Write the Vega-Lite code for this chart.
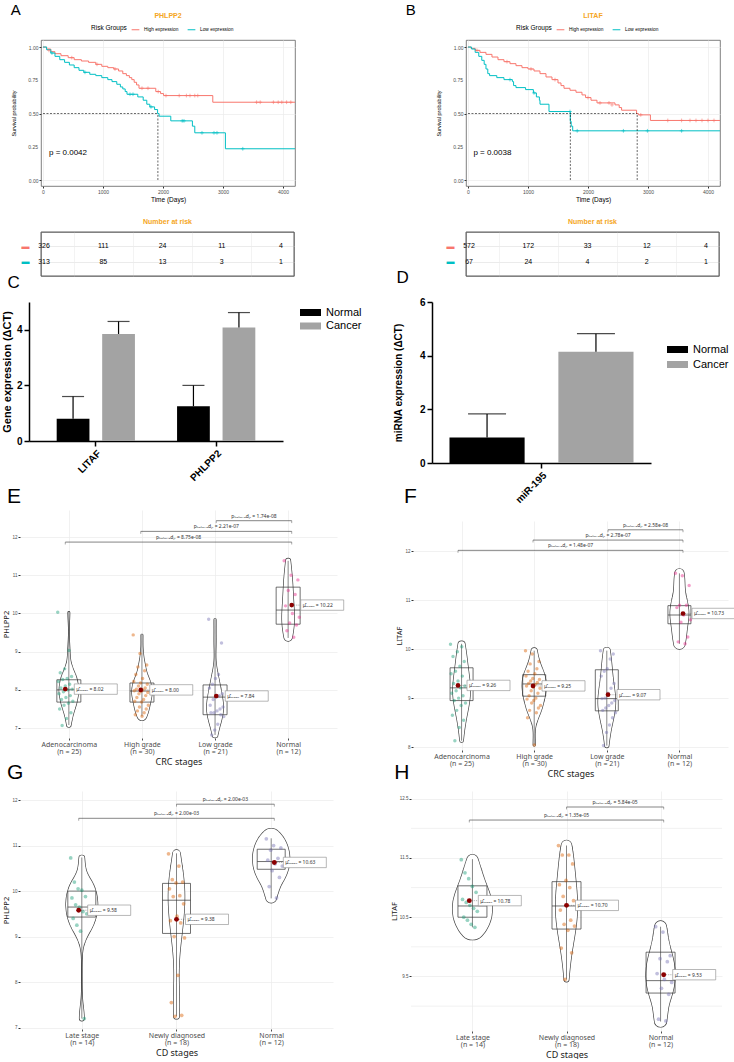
{
  "$schema": "https://vega.github.io/schema/vega-lite/v6.json",
  "background": "white",
  "padding": {"left": 0, "top": 2, "right": 0, "bottom": 0},
  "config": {
    "font": "Liberation Sans",
    "view": {"stroke": null},
    "axis": {"labelColor": "#4D4D4D", "titleColor": "#000000", "tickColor": "#333333", "domainColor": "#333333", "titleFontWeight": "normal", "labelOverlap": false},
    "title": {"fontWeight": "normal", "color": "#000000"},
    "legend": {"padding": 0}
  },
  "datasets": {
    "kmA": [
      {"g":"High expression","t":0,"s":1},{"g":"High expression","t":60,"s":0.985},{"g":"High expression","t":130,"s":0.965},{"g":"High expression","t":200,"s":0.95},{"g":"High expression","t":300,"s":0.935},{"g":"High expression","t":420,"s":0.92},{"g":"High expression","t":520,"s":0.905},{"g":"High expression","t":640,"s":0.895},{"g":"High expression","t":760,"s":0.885},{"g":"High expression","t":880,"s":0.87},{"g":"High expression","t":980,"s":0.855},{"g":"High expression","t":1080,"s":0.845},{"g":"High expression","t":1180,"s":0.835},{"g":"High expression","t":1260,"s":0.82},{"g":"High expression","t":1330,"s":0.8},{"g":"High expression","t":1390,"s":0.785},{"g":"High expression","t":1440,"s":0.77},{"g":"High expression","t":1480,"s":0.755},{"g":"High expression","t":1520,"s":0.735},{"g":"High expression","t":1560,"s":0.715},{"g":"High expression","t":1600,"s":0.69},{"g":"High expression","t":1880,"s":0.665},{"g":"High expression","t":1960,"s":0.65},{"g":"High expression","t":2010,"s":0.635},{"g":"High expression","t":2830,"s":0.585},{"g":"High expression","t":4200,"s":0.585},
      {"g":"Low expression","t":0,"s":1},{"g":"Low expression","t":60,"s":0.98},{"g":"Low expression","t":130,"s":0.955},{"g":"Low expression","t":200,"s":0.93},{"g":"Low expression","t":280,"s":0.905},{"g":"Low expression","t":360,"s":0.885},{"g":"Low expression","t":440,"s":0.865},{"g":"Low expression","t":520,"s":0.845},{"g":"Low expression","t":600,"s":0.825},{"g":"Low expression","t":680,"s":0.81},{"g":"Low expression","t":780,"s":0.795},{"g":"Low expression","t":880,"s":0.785},{"g":"Low expression","t":980,"s":0.77},{"g":"Low expression","t":1080,"s":0.755},{"g":"Low expression","t":1150,"s":0.74},{"g":"Low expression","t":1230,"s":0.72},{"g":"Low expression","t":1290,"s":0.7},{"g":"Low expression","t":1330,"s":0.685},{"g":"Low expression","t":1370,"s":0.665},{"g":"Low expression","t":1400,"s":0.645},{"g":"Low expression","t":1580,"s":0.625},{"g":"Low expression","t":1670,"s":0.6},{"g":"Low expression","t":1730,"s":0.57},{"g":"Low expression","t":1780,"s":0.55},{"g":"Low expression","t":1860,"s":0.53},{"g":"Low expression","t":1910,"s":0.5},{"g":"Low expression","t":1935,"s":0.48},{"g":"Low expression","t":2130,"s":0.445},{"g":"Low expression","t":2490,"s":0.405},{"g":"Low expression","t":2530,"s":0.355},{"g":"Low expression","t":3040,"s":0.235},{"g":"Low expression","t":4200,"s":0.235}
    ],
    "censA": [
      {"g":"High expression","t":100,"s":0.975},{"g":"High expression","t":480,"s":0.92},{"g":"High expression","t":900,"s":0.87},{"g":"High expression","t":1200,"s":0.835},{"g":"High expression","t":1650,"s":0.69},{"g":"High expression","t":1750,"s":0.69},{"g":"High expression","t":1920,"s":0.665},{"g":"High expression","t":2050,"s":0.635},{"g":"High expression","t":2270,"s":0.635},{"g":"High expression","t":2390,"s":0.635},{"g":"High expression","t":2450,"s":0.635},{"g":"High expression","t":2530,"s":0.635},{"g":"High expression","t":2580,"s":0.635},{"g":"High expression","t":3560,"s":0.585},{"g":"High expression","t":3620,"s":0.585},{"g":"High expression","t":3840,"s":0.585},{"g":"High expression","t":3920,"s":0.585},{"g":"High expression","t":3980,"s":0.585},{"g":"High expression","t":4060,"s":0.585},{"g":"High expression","t":4130,"s":0.585},
      {"g":"Low expression","t":150,"s":0.955},{"g":"Low expression","t":700,"s":0.81},{"g":"Low expression","t":1450,"s":0.645},{"g":"Low expression","t":1500,"s":0.645},{"g":"Low expression","t":1800,"s":0.55},{"g":"Low expression","t":2320,"s":0.445},{"g":"Low expression","t":2350,"s":0.445},{"g":"Low expression","t":2650,"s":0.355},{"g":"Low expression","t":2850,"s":0.355},{"g":"Low expression","t":2900,"s":0.355},{"g":"Low expression","t":3330,"s":0.235}
    ],
    "kmB": [
      {"g":"High expression","t":0,"s":1},{"g":"High expression","t":50,"s":0.99},{"g":"High expression","t":120,"s":0.975},{"g":"High expression","t":200,"s":0.96},{"g":"High expression","t":300,"s":0.945},{"g":"High expression","t":400,"s":0.925},{"g":"High expression","t":500,"s":0.905},{"g":"High expression","t":600,"s":0.89},{"g":"High expression","t":700,"s":0.875},{"g":"High expression","t":800,"s":0.86},{"g":"High expression","t":900,"s":0.845},{"g":"High expression","t":1000,"s":0.835},{"g":"High expression","t":1100,"s":0.82},{"g":"High expression","t":1200,"s":0.8},{"g":"High expression","t":1300,"s":0.775},{"g":"High expression","t":1400,"s":0.755},{"g":"High expression","t":1500,"s":0.73},{"g":"High expression","t":1550,"s":0.71},{"g":"High expression","t":1600,"s":0.69},{"g":"High expression","t":1700,"s":0.675},{"g":"High expression","t":1800,"s":0.66},{"g":"High expression","t":1900,"s":0.64},{"g":"High expression","t":1960,"s":0.62},{"g":"High expression","t":2050,"s":0.6},{"g":"High expression","t":2150,"s":0.58},{"g":"High expression","t":2450,"s":0.565},{"g":"High expression","t":2520,"s":0.545},{"g":"High expression","t":2560,"s":0.525},{"g":"High expression","t":2810,"s":0.5},{"g":"High expression","t":2840,"s":0.49},{"g":"High expression","t":3040,"s":0.448},{"g":"High expression","t":4200,"s":0.448},
      {"g":"Low expression","t":0,"s":1},{"g":"Low expression","t":60,"s":0.985},{"g":"Low expression","t":120,"s":0.96},{"g":"Low expression","t":180,"s":0.93},{"g":"Low expression","t":230,"s":0.9},{"g":"Low expression","t":270,"s":0.87},{"g":"Low expression","t":300,"s":0.835},{"g":"Low expression","t":330,"s":0.8},{"g":"Low expression","t":360,"s":0.785},{"g":"Low expression","t":480,"s":0.77},{"g":"Low expression","t":600,"s":0.755},{"g":"Low expression","t":740,"s":0.74},{"g":"Low expression","t":760,"s":0.71},{"g":"Low expression","t":800,"s":0.695},{"g":"Low expression","t":960,"s":0.68},{"g":"Low expression","t":1090,"s":0.655},{"g":"Low expression","t":1140,"s":0.625},{"g":"Low expression","t":1190,"s":0.6},{"g":"Low expression","t":1200,"s":0.57},{"g":"Low expression","t":1350,"s":0.515},{"g":"Low expression","t":1705,"s":0.44},{"g":"Low expression","t":1720,"s":0.405},{"g":"Low expression","t":1745,"s":0.37},{"g":"Low expression","t":4200,"s":0.37}
    ],
    "censB": [
      {"g":"High expression","t":150,"s":0.975},{"g":"High expression","t":650,"s":0.89},{"g":"High expression","t":1050,"s":0.835},{"g":"High expression","t":1450,"s":0.755},{"g":"High expression","t":2000,"s":0.62},{"g":"High expression","t":2200,"s":0.58},{"g":"High expression","t":2350,"s":0.58},{"g":"High expression","t":2400,"s":0.565},{"g":"High expression","t":2880,"s":0.49},{"g":"High expression","t":3330,"s":0.448},{"g":"High expression","t":3560,"s":0.448},{"g":"High expression","t":3700,"s":0.448},{"g":"High expression","t":3800,"s":0.448},{"g":"High expression","t":3900,"s":0.448},{"g":"High expression","t":4000,"s":0.448},{"g":"High expression","t":4100,"s":0.448},
      {"g":"Low expression","t":700,"s":0.755},{"g":"Low expression","t":1100,"s":0.655},{"g":"Low expression","t":1700,"s":0.515},{"g":"Low expression","t":1820,"s":0.37},{"g":"Low expression","t":2590,"s":0.37},{"g":"Low expression","t":2990,"s":0.37},{"g":"Low expression","t":3560,"s":0.37}
    ],
    "ylabKM": [{"t": -33, "s": 0.25, "lab": "0.25"}, {"t": -33, "s": 0.75, "lab": "0.75"}],
    "frameT": [{"x1": -51, "x2": 4219, "y1": 0, "y2": 1}],
    "riskA": [
      {"g":"High expression","t":0,"n":326},{"g":"High expression","t":1000,"n":111},{"g":"High expression","t":2000,"n":24},{"g":"High expression","t":3000,"n":11},{"g":"High expression","t":4000,"n":4},
      {"g":"Low expression","t":0,"n":313},{"g":"Low expression","t":1000,"n":85},{"g":"Low expression","t":2000,"n":13},{"g":"Low expression","t":3000,"n":3},{"g":"Low expression","t":4000,"n":1}
    ],
    "riskB": [
      {"g":"High expression","t":0,"n":572},{"g":"High expression","t":1000,"n":172},{"g":"High expression","t":2000,"n":33},{"g":"High expression","t":3000,"n":12},{"g":"High expression","t":4000,"n":4},
      {"g":"Low expression","t":0,"n":67},{"g":"Low expression","t":1000,"n":24},{"g":"Low expression","t":2000,"n":4},{"g":"Low expression","t":3000,"n":2},{"g":"Low expression","t":4000,"n":1}
    ],
    "barC": [
      {"gene":"LITAF","grp":"Normal","mean":0.8,"hi":1.6},{"gene":"LITAF","grp":"Cancer","mean":3.85,"hi":4.3},
      {"gene":"PHLPP2","grp":"Normal","mean":1.25,"hi":2.0},{"gene":"PHLPP2","grp":"Cancer","mean":4.08,"hi":4.62}
    ],
    "barD": [
      {"gene":"miR-195","grp":"Normal","mean":0.95,"hi":1.83},{"gene":"miR-195","grp":"Cancer","mean":4.15,"hi":4.82}
    ],
    "ptsE": [
      {"c":1,"v":10.03},{"c":1,"v":8.22},{"c":1,"v":7.9},{"c":1,"v":7.5},{"c":1,"v":8.45},{"c":1,"v":8.05},{"c":1,"v":7.75},{"c":1,"v":7.07},{"c":1,"v":8.27},{"c":1,"v":7.95},{"c":1,"v":7.6},{"c":1,"v":8.55},{"c":1,"v":8.1},{"c":1,"v":7.8},{"c":1,"v":7.25},{"c":1,"v":8.3},{"c":1,"v":8.0},{"c":1,"v":7.65},{"c":1,"v":9.03},{"c":1,"v":8.15},{"c":1,"v":7.85},{"c":1,"v":7.4},{"c":1,"v":8.35},{"c":1,"v":8.02},{"c":1,"v":7.7},
      {"c":2,"v":9.44},{"c":2,"v":8.22},{"c":2,"v":7.98},{"c":2,"v":7.7},{"c":2,"v":7.35},{"c":2,"v":8.4},{"c":2,"v":8.02},{"c":2,"v":7.8},{"c":2,"v":7.45},{"c":2,"v":8.6},{"c":2,"v":8.1},{"c":2,"v":7.9},{"c":2,"v":7.55},{"c":2,"v":8.95},{"c":2,"v":8.18},{"c":2,"v":7.96},{"c":2,"v":7.68},{"c":2,"v":7.31},{"c":2,"v":8.3},{"c":2,"v":8.0},{"c":2,"v":7.75},{"c":2,"v":7.4},{"c":2,"v":8.5},{"c":2,"v":8.05},{"c":2,"v":7.85},{"c":2,"v":7.5},{"c":2,"v":8.65},{"c":2,"v":8.15},{"c":2,"v":7.93},{"c":2,"v":7.6},
      {"c":3,"v":9.85},{"c":3,"v":8.05},{"c":3,"v":7.6},{"c":3,"v":7.4},{"c":3,"v":6.82},{"c":3,"v":8.15},{"c":3,"v":7.75},{"c":3,"v":7.4},{"c":3,"v":6.95},{"c":3,"v":8.3},{"c":3,"v":7.81},{"c":3,"v":7.45},{"c":3,"v":7.1},{"c":3,"v":8.4},{"c":3,"v":7.85},{"c":3,"v":7.5},{"c":3,"v":7.35},{"c":3,"v":9.23},{"c":3,"v":7.9},{"c":3,"v":7.55},{"c":3,"v":7.3},
      {"c":4,"v":11.38},{"c":4,"v":10.2},{"c":4,"v":9.55},{"c":4,"v":10.6},{"c":4,"v":9.75},{"c":4,"v":11.0},{"c":4,"v":10.0},{"c":4,"v":9.38},{"c":4,"v":10.5},{"c":4,"v":9.7},{"c":4,"v":10.88},{"c":4,"v":9.9}
    ],
    "sumE": [
      {"c":1,"lo":7.08,"q1":7.68,"med":8.0,"q3":8.265,"hi":10.04,"mean":8.02,"lab":"μ̂ₘₑₐₙ = 8.02"},
      {"c":2,"lo":7.31,"q1":7.68,"med":7.97,"q3":8.18,"hi":9.44,"mean":8.0,"lab":"μ̂ₘₑₐₙ = 8.00"},
      {"c":3,"lo":6.82,"q1":7.35,"med":7.81,"q3":8.13,"hi":9.85,"mean":7.84,"lab":"μ̂ₘₑₐₙ = 7.84"},
      {"c":4,"lo":9.36,"q1":9.72,"med":10.09,"q3":10.69,"hi":11.38,"mean":10.22,"lab":"μ̂ₘₑₐₙ = 10.22"}
    ],
    "brE": [
      {"x1":3,"x2":4,"xm":3.5,"y":12.43,"lab":"pₕₒₗₘ₋ₐdⱼ. = 1.74e-08"},
      {"x1":2,"x2":4,"xm":3,"y":12.15,"lab":"pₕₒₗₘ₋ₐdⱼ. = 2.21e-07"},
      {"x1":1,"x2":4,"xm":2.5,"y":11.87,"lab":"pₕₒₗₘ₋ₐdⱼ. = 8.75e-08"}
    ],
    "ptsF": [
      {"c":1,"v":10.1},{"c":1,"v":9.5},{"c":1,"v":9.1},{"c":1,"v":8.65},{"c":1,"v":9.85},{"c":1,"v":9.3},{"c":1,"v":8.95},{"c":1,"v":8.13},{"c":1,"v":9.55},{"c":1,"v":9.15},{"c":1,"v":8.75},{"c":1,"v":9.95},{"c":1,"v":9.35},{"c":1,"v":9.0},{"c":1,"v":8.4},{"c":1,"v":9.65},{"c":1,"v":9.21},{"c":1,"v":8.85},{"c":1,"v":10.05},{"c":1,"v":9.45},{"c":1,"v":9.05},{"c":1,"v":8.55},{"c":1,"v":9.75},{"c":1,"v":9.25},{"c":1,"v":8.9},
      {"c":2,"v":9.97},{"c":2,"v":9.45},{"c":2,"v":9.25},{"c":2,"v":8.98},{"c":2,"v":8.6},{"c":2,"v":9.55},{"c":2,"v":9.3},{"c":2,"v":9.05},{"c":2,"v":8.75},{"c":2,"v":9.7},{"c":2,"v":9.35},{"c":2,"v":9.15},{"c":2,"v":8.9},{"c":2,"v":9.9},{"c":2,"v":9.4},{"c":2,"v":9.22},{"c":2,"v":8.95},{"c":2,"v":8.04},{"c":2,"v":9.5},{"c":2,"v":9.28},{"c":2,"v":9.0},{"c":2,"v":8.7},{"c":2,"v":9.6},{"c":2,"v":9.32},{"c":2,"v":9.1},{"c":2,"v":8.8},{"c":2,"v":9.75},{"c":2,"v":9.38},{"c":2,"v":9.2},{"c":2,"v":8.85},
      {"c":3,"v":9.97},{"c":3,"v":9.45},{"c":3,"v":8.99},{"c":3,"v":8.75},{"c":3,"v":8.03},{"c":3,"v":9.55},{"c":3,"v":9.0},{"c":3,"v":8.8},{"c":3,"v":8.3},{"c":3,"v":9.6},{"c":3,"v":9.1},{"c":3,"v":8.85},{"c":3,"v":8.45},{"c":3,"v":9.8},{"c":3,"v":9.2},{"c":3,"v":8.9},{"c":3,"v":8.6},{"c":3,"v":9.9},{"c":3,"v":9.3},{"c":3,"v":8.95},{"c":3,"v":8.7},
      {"c":4,"v":11.55},{"c":4,"v":10.85},{"c":4,"v":10.15},{"c":4,"v":10.9},{"c":4,"v":10.55},{"c":4,"v":11.5},{"c":4,"v":10.7},{"c":4,"v":10.11},{"c":4,"v":10.9},{"c":4,"v":10.25},{"c":4,"v":11.3},{"c":4,"v":10.6}
    ],
    "sumF": [
      {"c":1,"lo":8.13,"q1":8.95,"med":9.21,"q3":9.62,"hi":10.11,"mean":9.26,"lab":"μ̂ₘₑₐₙ = 9.26"},
      {"c":2,"lo":8.04,"q1":9.04,"med":9.29,"q3":9.48,"hi":9.97,"mean":9.25,"lab":"μ̂ₘₑₐₙ = 9.25"},
      {"c":3,"lo":8.03,"q1":8.74,"med":8.99,"q3":9.58,"hi":9.97,"mean":9.07,"lab":"μ̂ₘₑₐₙ = 9.07"},
      {"c":4,"lo":10.11,"q1":10.52,"med":10.7,"q3":10.89,"hi":11.55,"mean":10.73,"lab":"μ̂ₘₑₐₙ = 10.73"}
    ],
    "brF": [
      {"x1":3,"x2":4,"xm":3.5,"y":12.44,"lab":"pₕₒₗₘ₋ₐdⱼ. = 2.58e-08"},
      {"x1":2,"x2":4,"xm":3,"y":12.23,"lab":"pₕₒₗₘ₋ₐdⱼ. = 2.78e-07"},
      {"x1":1,"x2":4,"xm":2.5,"y":12.02,"lab":"pₕₒₗₘ₋ₐdⱼ. = 1.48e-07"}
    ],
    "ptsG": [
      {"c":1,"v":10.73},{"c":1,"v":9.85},{"c":1,"v":9.4},{"c":1,"v":10.2},{"c":1,"v":9.7},{"c":1,"v":9.25},{"c":1,"v":10.05},{"c":1,"v":9.65},{"c":1,"v":9.12},{"c":1,"v":10.02},{"c":1,"v":9.55},{"c":1,"v":7.2},{"c":1,"v":9.88},{"c":1,"v":9.5},
      {"c":2,"v":10.82},{"c":2,"v":10.05},{"c":2,"v":9.35},{"c":2,"v":7.55},{"c":2,"v":10.25},{"c":2,"v":9.88},{"c":2,"v":9.0},{"c":2,"v":7.25},{"c":2,"v":10.18},{"c":2,"v":9.45},{"c":2,"v":8.15},{"c":2,"v":10.55},{"c":2,"v":9.9},{"c":2,"v":9.3},{"c":2,"v":7.27},{"c":2,"v":10.2},{"c":2,"v":9.72},{"c":2,"v":8.97},
      {"c":3,"v":11.15},{"c":3,"v":10.68},{"c":3,"v":10.1},{"c":3,"v":10.9},{"c":3,"v":10.45},{"c":3,"v":11.0},{"c":3,"v":10.6},{"c":3,"v":9.85},{"c":3,"v":10.72},{"c":3,"v":10.3},{"c":3,"v":10.95},{"c":3,"v":10.55}
    ],
    "sumG": [
      {"c":1,"lo":7.2,"q1":9.43,"med":9.65,"q3":10.0,"hi":10.74,"mean":9.58,"lab":"μ̂ₘₑₐₙ = 9.58"},
      {"c":2,"lo":7.25,"q1":9.07,"med":9.8,"q3":10.17,"hi":10.83,"mean":9.38,"lab":"μ̂ₘₑₐₙ = 9.38"},
      {"c":3,"lo":9.84,"q1":10.48,"med":10.65,"q3":10.92,"hi":11.16,"mean":10.63,"lab":"μ̂ₘₑₐₙ = 10.63"}
    ],
    "brG": [
      {"x1":2,"x2":3,"xm":2.5,"y":11.91,"lab":"pₕₒₗₘ₋ₐdⱼ. = 2.00e-03"},
      {"x1":1,"x2":3,"xm":2,"y":11.6,"lab":"pₕₒₗₘ₋ₐdⱼ. = 2.00e-03"}
    ],
    "ptsH": [
      {"c":1,"v":11.47},{"c":1,"v":10.8},{"c":1,"v":10.5},{"c":1,"v":11.25},{"c":1,"v":10.75},{"c":1,"v":10.45},{"c":1,"v":11.15},{"c":1,"v":10.7},{"c":1,"v":10.38},{"c":1,"v":11.02},{"c":1,"v":10.65},{"c":1,"v":10.33},{"c":1,"v":10.92},{"c":1,"v":10.6},
      {"c":2,"v":11.71},{"c":2,"v":11.05},{"c":2,"v":10.62},{"c":2,"v":9.98},{"c":2,"v":11.55},{"c":2,"v":10.85},{"c":2,"v":10.38},{"c":2,"v":9.45},{"c":2,"v":11.12},{"c":2,"v":10.7},{"c":2,"v":10.28},{"c":2,"v":11.55},{"c":2,"v":11.0},{"c":2,"v":10.45},{"c":2,"v":9.9},{"c":2,"v":11.4},{"c":2,"v":10.78},{"c":2,"v":10.35},
      {"c":3,"v":10.34},{"c":3,"v":9.55},{"c":3,"v":8.78},{"c":3,"v":9.8},{"c":3,"v":9.3},{"c":3,"v":10.25},{"c":3,"v":9.45},{"c":3,"v":8.75},{"c":3,"v":9.75},{"c":3,"v":9.2},{"c":3,"v":9.85},{"c":3,"v":9.4}
    ],
    "sumH": [
      {"c":1,"lo":10.33,"q1":10.5,"med":10.69,"q3":11.03,"hi":11.48,"mean":10.78,"lab":"μ̂ₘₑₐₙ = 10.78"},
      {"c":2,"lo":9.45,"q1":10.3,"med":10.69,"q3":11.1,"hi":11.71,"mean":10.7,"lab":"μ̂ₘₑₐₙ = 10.70"},
      {"c":3,"lo":8.74,"q1":9.22,"med":9.43,"q3":9.91,"hi":10.34,"mean":9.53,"lab":"μ̂ₘₑₐₙ = 9.53"}
    ],
    "brH": [
      {"x1":2,"x2":3,"xm":2.5,"y":12.36,"lab":"pₕₒₗₘ₋ₐdⱼ. = 5.84e-05"},
      {"x1":1,"x2":3,"xm":2,"y":12.14,"lab":"pₕₒₗₘ₋ₐdⱼ. = 1.35e-05"}
    ],
    "gridH": [{"gy": 9}, {"gy": 10}, {"gy": 11}, {"gy": 12}]
  },
  "spacing": -23,
  "resolve": {"scale": {"color": "independent", "size": "independent", "xOffset": "independent"}, "legend": {"color": "independent", "size": "independent"}},
  "vconcat": [
    {
      "spacing": 9,
      "resolve": {"scale": {"color": "independent", "size": "independent", "xOffset": "independent"}, "legend": {"color": "independent", "size": "independent"}},
      "hconcat": [
        {"width": 1, "height": 252, "data": {"values": []}, "mark": "point"},
        {
          "spacing": 107,
          "resolve": {"scale": {"color": "independent", "size": "independent", "xOffset": "independent"}, "legend": {"color": "independent", "size": "independent"}},
          "hconcat": [
            {
              "title": {"text": "A", "anchor": "start", "fontSize": 15, "offset": -6, "dx": 0},
              "spacing": 14,
              "vconcat": [
                {
                  "width": 254, "height": 146,
                  "view": {"stroke": "#5E5E5E", "strokeWidth": 0.8},
                  "title": {"text": "PHLPP2", "color": "#F5A623", "fontSize": 7, "fontWeight": "bold", "offset": 21},
                  "layer": [
                    {
                      "data": {"name": "kmA"},
                      "mark": {"type": "line", "interpolate": "step-after", "strokeWidth": 1},
                      "encoding": {
                        "x": {"field": "t", "type": "quantitative", "scale": {"domain": [-33, 4200], "nice": false, "zero": false},
                          "axis": {"values": [0, 1000, 2000, 3000, 4000], "format": "d", "labelOverlap": false, "title": "Time (Days)", "labelFontSize": 5, "titleFontSize": 6.5, "tickSize": 2, "labelPadding": 1, "titlePadding": 2, "domain": false, "gridColor": "#EBEBEB", "gridWidth": 0.7}},
                        "y": {"field": "s", "type": "quantitative", "scale": {"domain": [-0.045, 1.053], "nice": false, "zero": false},
                          "axis": {"values": [0, 0.25, 0.5, 0.75, 1], "format": ".2f", "labelOverlap": false, "title": "Survival probability", "labelFontSize": 5, "titleFontSize": 5.5, "tickSize": 2, "labelPadding": 1, "titlePadding": 12, "domain": false, "gridColor": "#EBEBEB", "gridWidth": 0.7}},
                        "color": {"field": "g", "type": "nominal", "scale": {"domain": ["High expression", "Low expression"], "range": ["#F8766D", "#00BFC4"]},
                          "legend": {"orient": "none", "legendX": 50, "legendY": -15, "direction": "horizontal", "title": "Risk Groups", "titleOrient": "left", "titleFontSize": 6.5, "titleFontWeight": "normal", "titleColor": "#000", "titlePadding": 4, "labelFontSize": 4.8, "labelColor": "#000", "symbolType": "stroke", "symbolSize": 60, "symbolStrokeWidth": 1, "columnPadding": 6}}
                      }
                    },
                    {
                      "data": {"name": "censA"},
                      "mark": {"type": "point", "shape": "M-1,0H1M0,-1V1", "size": 14, "strokeWidth": 0.6, "filled": false, "opacity": 1},
                      "encoding": {"x": {"field": "t", "type": "quantitative"}, "y": {"field": "s", "type": "quantitative"}, "color": {"field": "g", "type": "nominal"}}
                    },
                    {
                      "data": {"values": [{"t": 0, "t2": 1915, "s": 0.5, "s2": 0.5}, {"t": 1915, "t2": 1915, "s": 0, "s2": 0.5}]},
                      "mark": {"type": "rule", "strokeDash": [2, 1.5], "strokeWidth": 0.6, "color": "#000"},
                      "encoding": {"x": {"field": "t", "type": "quantitative"}, "x2": {"field": "t2"}, "y": {"field": "s", "type": "quantitative"}, "y2": {"field": "s2"}}
                    },
                    {
                      "data": {"values": [{"t": 100, "s": 0.2, "label": "p = 0.0042"}]},
                      "mark": {"type": "text", "align": "left", "baseline": "middle", "fontSize": 8, "color": "#000"},
                      "encoding": {"x": {"field": "t", "type": "quantitative"}, "y": {"field": "s", "type": "quantitative"}, "text": {"field": "label"}}
                    },
                    {
                      "data": {"name": "ylabKM"},
                      "mark": {"type": "text", "align": "right", "baseline": "middle", "dx": -3, "fontSize": 5, "color": "#4D4D4D"},
                      "encoding": {"x": {"field": "t", "type": "quantitative"}, "y": {"field": "s", "type": "quantitative"}, "text": {"field": "lab"}}
                    }
                  ]
                },
                {
                  "width": 253, "height": 44,
                  "view": {"stroke": "#5E5E5E", "strokeWidth": 0.8},
                  "title": {"text": "Number at risk", "color": "#F5A623", "fontSize": 7, "fontWeight": "bold", "offset": 7},
                  "resolve": {"scale": {"y": "independent"}},
                  "layer": [
                    {
                      "data": {"name": "riskA"},
                      "mark": {"type": "text", "fontSize": 7, "color": "#000"},
                      "encoding": {
                        "x": {"field": "t", "type": "quantitative", "scale": {"domain": [-51, 4219], "nice": false, "zero": false}, "axis": {"values": [500, 1500, 2500, 3500], "labels": false, "ticks": false, "domain": false, "title": null, "gridColor": "#EBEBEB", "gridWidth": 0.6}},
                        "y": {"field": "g", "type": "nominal", "sort": ["High expression", "Low expression"], "scale": {"type": "point", "padding": 0.9},
                          "axis": {"title": null, "labelExpr": "'▬'", "labelOverlap": false, "labelFontSize": 8, "labelColor": {"condition": {"test": "datum.value === 'High expression'", "value": "#F8766D"}, "value": "#00BFC4"}, "ticks": false, "domain": false, "labelPadding": 12, "grid": true, "gridColor": "#EBEBEB"}},
                        "text": {"field": "n", "type": "quantitative"}
                      }
                    },
                    {
                      "data": {"name": "frameT"},
                      "mark": {"type": "rect", "filled": false, "stroke": "#5E5E5E", "strokeWidth": 0.8},
                      "encoding": {
                        "x": {"field": "x1", "type": "quantitative"}, "x2": {"field": "x2"},
                        "y": {"field": "y1", "type": "quantitative", "scale": {"domain": [0, 1], "nice": false}, "axis": null}, "y2": {"field": "y2"}
                      }
                    }
                  ]
                }
              ]
            },
            {
              "title": {"text": "B", "anchor": "start", "fontSize": 15, "offset": -6, "dx": -30},
              "spacing": 14,
              "vconcat": [
                {
                  "width": 254, "height": 146,
                  "view": {"stroke": "#5E5E5E", "strokeWidth": 0.8},
                  "title": {"text": "LITAF", "color": "#F5A623", "fontSize": 7, "fontWeight": "bold", "offset": 21},
                  "layer": [
                    {
                      "data": {"name": "kmB"},
                      "mark": {"type": "line", "interpolate": "step-after", "strokeWidth": 1},
                      "encoding": {
                        "x": {"field": "t", "type": "quantitative", "scale": {"domain": [-33, 4200], "nice": false, "zero": false},
                          "axis": {"values": [0, 1000, 2000, 3000, 4000], "format": "d", "labelOverlap": false, "title": "Time (Days)", "labelFontSize": 5, "titleFontSize": 6.5, "tickSize": 2, "labelPadding": 1, "titlePadding": 2, "domain": false, "gridColor": "#EBEBEB", "gridWidth": 0.7}},
                        "y": {"field": "s", "type": "quantitative", "scale": {"domain": [-0.045, 1.053], "nice": false, "zero": false},
                          "axis": {"values": [0, 0.25, 0.5, 0.75, 1], "format": ".2f", "labelOverlap": false, "title": "Survival probability", "labelFontSize": 5, "titleFontSize": 5.5, "tickSize": 2, "labelPadding": 1, "titlePadding": 12, "domain": false, "gridColor": "#EBEBEB", "gridWidth": 0.7}},
                        "color": {"field": "g", "type": "nominal", "scale": {"domain": ["High expression", "Low expression"], "range": ["#F8766D", "#00BFC4"]},
                          "legend": {"orient": "none", "legendX": 50, "legendY": -15, "direction": "horizontal", "title": "Risk Groups", "titleOrient": "left", "titleFontSize": 6.5, "titleFontWeight": "normal", "titleColor": "#000", "titlePadding": 4, "labelFontSize": 4.8, "labelColor": "#000", "symbolType": "stroke", "symbolSize": 60, "symbolStrokeWidth": 1, "columnPadding": 6}}
                      }
                    },
                    {
                      "data": {"name": "censB"},
                      "mark": {"type": "point", "shape": "M-1,0H1M0,-1V1", "size": 14, "strokeWidth": 0.6, "filled": false, "opacity": 1},
                      "encoding": {"x": {"field": "t", "type": "quantitative"}, "y": {"field": "s", "type": "quantitative"}, "color": {"field": "g", "type": "nominal"}}
                    },
                    {
                      "data": {"values": [{"t": 0, "t2": 2820, "s": 0.5, "s2": 0.5}, {"t": 1706, "t2": 1706, "s": 0, "s2": 0.5}, {"t": 2820, "t2": 2820, "s": 0, "s2": 0.5}]},
                      "mark": {"type": "rule", "strokeDash": [2, 1.5], "strokeWidth": 0.6, "color": "#000"},
                      "encoding": {"x": {"field": "t", "type": "quantitative"}, "x2": {"field": "t2"}, "y": {"field": "s", "type": "quantitative"}, "y2": {"field": "s2"}}
                    },
                    {
                      "data": {"values": [{"t": 90, "s": 0.2, "label": "p = 0.0038"}]},
                      "mark": {"type": "text", "align": "left", "baseline": "middle", "fontSize": 8, "color": "#000"},
                      "encoding": {"x": {"field": "t", "type": "quantitative"}, "y": {"field": "s", "type": "quantitative"}, "text": {"field": "label"}}
                    },
                    {
                      "data": {"name": "ylabKM"},
                      "mark": {"type": "text", "align": "right", "baseline": "middle", "dx": -3, "fontSize": 5, "color": "#4D4D4D"},
                      "encoding": {"x": {"field": "t", "type": "quantitative"}, "y": {"field": "s", "type": "quantitative"}, "text": {"field": "lab"}}
                    }
                  ]
                },
                {
                  "width": 253, "height": 44,
                  "view": {"stroke": "#5E5E5E", "strokeWidth": 0.8},
                  "title": {"text": "Number at risk", "color": "#F5A623", "fontSize": 7, "fontWeight": "bold", "offset": 7},
                  "resolve": {"scale": {"y": "independent"}},
                  "layer": [
                    {
                      "data": {"name": "riskB"},
                      "mark": {"type": "text", "fontSize": 7, "color": "#000"},
                      "encoding": {
                        "x": {"field": "t", "type": "quantitative", "scale": {"domain": [-51, 4219], "nice": false, "zero": false}, "axis": {"values": [500, 1500, 2500, 3500], "labels": false, "ticks": false, "domain": false, "title": null, "gridColor": "#EBEBEB", "gridWidth": 0.6}},
                        "y": {"field": "g", "type": "nominal", "sort": ["High expression", "Low expression"], "scale": {"type": "point", "padding": 0.9},
                          "axis": {"title": null, "labelExpr": "'▬'", "labelOverlap": false, "labelFontSize": 8, "labelColor": {"condition": {"test": "datum.value === 'High expression'", "value": "#F8766D"}, "value": "#00BFC4"}, "ticks": false, "domain": false, "labelPadding": 12, "grid": true, "gridColor": "#EBEBEB"}},
                        "text": {"field": "n", "type": "quantitative"}
                      }
                    },
                    {
                      "data": {"name": "frameT"},
                      "mark": {"type": "rect", "filled": false, "stroke": "#5E5E5E", "strokeWidth": 0.8},
                      "encoding": {
                        "x": {"field": "x1", "type": "quantitative"}, "x2": {"field": "x2"},
                        "y": {"field": "y1", "type": "quantitative", "scale": {"domain": [0, 1], "nice": false}, "axis": null}, "y2": {"field": "y2"}
                      }
                    }
                  ]
                }
              ]
            }
          ]
        }
      ]
    },
    {
      "spacing": 0,
      "resolve": {"scale": {"color": "independent", "size": "independent", "xOffset": "independent"}, "legend": {"color": "independent", "size": "independent"}},
      "hconcat": [
        {"width": 1, "height": 207, "data": {"values": []}, "mark": "point"},
        {
          "spacing": 31,
          "resolve": {"scale": {"color": "independent", "size": "independent", "xOffset": "independent"}, "legend": {"color": "independent", "size": "independent"}},
          "hconcat": [
            {
              "title": {"text": "C", "anchor": "start", "fontSize": 17, "offset": 10, "dx": 6},
              "width": 254, "height": 139,
              "data": {"name": "barC"},
              "encoding": {
                "x": {"field": "gene", "type": "nominal", "sort": ["LITAF", "PHLPP2"], "scale": {"paddingInner": 0.35, "paddingOuter": 0.23},
                  "axis": {"title": null, "labelAngle": -45, "labelFontSize": 10, "labelFontWeight": "bold", "labelColor": "#000", "domainColor": "#000", "domainWidth": 1.5, "tickColor": "#000", "tickWidth": 1.5, "tickSize": 5, "labelPadding": 2, "grid": false}},
                "xOffset": {"field": "grp", "type": "nominal", "sort": ["Normal", "Cancer"], "scale": {"paddingInner": 0.28, "paddingOuter": 0}}
              },
              "layer": [
                {
                  "mark": {"type": "bar"},
                  "encoding": {
                    "y": {"field": "mean", "type": "quantitative", "scale": {"domain": [0, 5], "nice": false},
                      "axis": {"values": [0, 1, 2, 3, 4, 5], "title": "Gene expression (ΔCT)", "titleFontSize": 11, "titleFontWeight": "bold", "titleColor": "#000", "labelFontSize": 10, "labelFontWeight": "bold", "labelColor": "#000", "domainColor": "#000", "domainWidth": 1.5, "tickColor": "#000", "tickWidth": 1.5, "tickSize": 5, "grid": false, "titlePadding": 4, "labelPadding": 2}},
                    "color": {"field": "grp", "type": "nominal", "scale": {"domain": ["Normal", "Cancer"], "range": ["#000000", "#A3A3A3"]},
                      "legend": {"title": null, "orient": "none", "legendX": 276, "legendY": 5, "labelFontSize": 11, "labelColor": "#000", "symbolType": "M-3,-1H3V1H-3Z", "symbolSize": 49, "symbolStrokeWidth": 0, "labelOffset": 10, "rowPadding": 1.5}}
                  }
                },
                {
                  "mark": {"type": "rule", "color": "#000", "strokeWidth": 1.2},
                  "encoding": {"y": {"field": "mean", "type": "quantitative"}, "y2": {"field": "hi"}}
                },
                {
                  "mark": {"type": "tick", "orient": "horizontal", "color": "#000", "size": 22, "thickness": 1.2},
                  "encoding": {"y": {"field": "hi", "type": "quantitative"}}
                }
              ]
            },
            {
              "title": {"text": "D", "anchor": "start", "fontSize": 17, "offset": 10, "dx": 3},
              "width": 219, "height": 161,
              "data": {"name": "barD"},
              "encoding": {
                "x": {"field": "gene", "type": "nominal", "scale": {"paddingInner": 0, "paddingOuter": 0.095},
                  "axis": {"title": null, "labelAngle": -45, "labelFontSize": 10, "labelFontWeight": "bold", "labelColor": "#000", "domainColor": "#000", "domainWidth": 1.5, "tickColor": "#000", "tickWidth": 1.5, "tickSize": 5, "labelPadding": 2, "grid": false}},
                "xOffset": {"field": "grp", "type": "nominal", "sort": ["Normal", "Cancer"], "scale": {"paddingInner": 0.31, "paddingOuter": 0}}
              },
              "layer": [
                {
                  "mark": {"type": "bar"},
                  "encoding": {
                    "y": {"field": "mean", "type": "quantitative", "scale": {"domain": [0, 6], "nice": false},
                      "axis": {"values": [0, 2, 4, 6], "title": "miRNA expression (ΔCT)", "titleFontSize": 10, "titleFontWeight": "bold", "titleColor": "#000", "labelFontSize": 10, "labelFontWeight": "bold", "labelColor": "#000", "domainColor": "#000", "domainWidth": 1.5, "tickColor": "#000", "tickWidth": 1.5, "tickSize": 5, "grid": false, "titlePadding": 16, "labelPadding": 2}},
                    "color": {"field": "grp", "type": "nominal", "scale": {"domain": ["Normal", "Cancer"], "range": ["#000000", "#A3A3A3"]},
                      "legend": {"title": null, "orient": "none", "legendX": 240, "legendY": 42, "labelFontSize": 11, "labelColor": "#000", "symbolType": "M-3,-1H3V1H-3Z", "symbolSize": 49, "symbolStrokeWidth": 0, "labelOffset": 10, "rowPadding": 3}}
                  }
                },
                {
                  "mark": {"type": "rule", "color": "#000", "strokeWidth": 1.2},
                  "encoding": {"y": {"field": "mean", "type": "quantitative"}, "y2": {"field": "hi"}}
                },
                {
                  "mark": {"type": "tick", "orient": "horizontal", "color": "#000", "size": 38, "thickness": 1.2},
                  "encoding": {"y": {"field": "hi", "type": "quantitative"}}
                }
              ]
            }
          ]
        }
      ]
    },
    {
      "spacing": 1,
      "resolve": {"scale": {"color": "independent", "size": "independent", "xOffset": "independent"}, "legend": {"color": "independent", "size": "independent"}},
      "hconcat": [
        {"width": 1, "height": 275, "data": {"values": []}, "mark": "point"},
        {
          "spacing": 50,
          "resolve": {"scale": {"color": "independent", "size": "independent", "xOffset": "independent"}, "legend": {"color": "independent", "size": "independent"}},
          "hconcat": [
            {
              "title": {"text": "E", "anchor": "start", "fontSize": 21, "offset": 3, "dx": 4},
              "width": 317, "height": 228,
              "resolve": {"scale": {"x": "independent", "size": "independent", "color": "independent"}},
              "layer": [
                {
                  "resolve": {"scale": {"size": "independent"}},
                  "layer": [
                    {
                      "data": {"name": "ptsE"},
                      "transform": [
                        {"joinaggregate": [{"op": "min", "field": "v", "as": "vmin"}, {"op": "max", "field": "v", "as": "vmax"}], "groupby": ["c"]},
                        {"density": "v", "groupby": ["c", "vmin", "vmax"], "steps": 300, "as": ["value", "density"]},
                        {"filter": "datum.value >= datum.vmin - 0.001 && datum.value <= datum.vmax + 0.001"}
                      ],
                      "mark": {"type": "trail", "filled": true, "color": "#3A3A3A"},
                      "encoding": {
                        "x": {"field": "c", "type": "quantitative", "scale": {"domain": [0.4, 4.6], "nice": false, "zero": false},
                          "axis": {"values": [1, 2, 3, 4], "labelExpr": "[['Adenocarcinoma','(n = 25)'],['High grade','(n = 30)'],['Low grade','(n = 21)'],['Normal','(n = 12)']][datum.value - 1]", "labelOverlap": false, "title": "CRC stages", "labelFont": "Noto Sans", "titleFont": "Noto Sans", "labelFontSize": 7, "labelLineHeight": 7, "labelColor": "#4D4D4D", "titleFontSize": 9, "titleColor": "#1A1A1A", "tickSize": 2, "tickColor": "#4D4D4D", "labelPadding": 0, "titlePadding": 3, "domain": false, "grid": true, "gridColor": "#EBEBEB", "gridWidth": 0.7, "labelFlush": false}},
                        "y": {"field": "value", "type": "quantitative", "scale": {"domain": [6.74, 12.71], "nice": false, "zero": false},
                          "axis": {"values": [7, 7.5, 8, 8.5, 9, 9.5, 10, 10.5, 11, 11.5, 12, 12.5], "labelExpr": "datum.value % 1 === 0 ? format(datum.value, 'd') : ''", "labelOverlap": false, "title": "PHLPP2", "titleFont": "Noto Sans", "titleFontSize": 7.5, "titleColor": "#1A1A1A", "labelFontSize": 4.5, "labelColor": "#4D4D4D", "tickSize": 2, "labelPadding": 1, "titlePadding": 1, "domain": false, "gridColor": "#EBEBEB", "gridWidth": 0.7}},
                        "size": {"field": "density", "type": "quantitative", "scale": {"domain": [0, 1.1], "range": [1.3, 27.3]}, "legend": null},
                        "detail": {"field": "c", "type": "nominal"},
                        "order": {"field": "value", "type": "quantitative"}
                      }
                    },
                    {
                      "data": {"name": "ptsE"},
                      "transform": [
                        {"joinaggregate": [{"op": "min", "field": "v", "as": "vmin"}, {"op": "max", "field": "v", "as": "vmax"}], "groupby": ["c"]},
                        {"density": "v", "groupby": ["c", "vmin", "vmax"], "steps": 300, "as": ["value", "density"]},
                        {"filter": "datum.value >= datum.vmin - 0.001 && datum.value <= datum.vmax + 0.001"}
                      ],
                      "mark": {"type": "trail", "filled": true, "color": "white"},
                      "encoding": {
                        "x": {"field": "c", "type": "quantitative"},
                        "y": {"field": "value", "type": "quantitative"},
                        "size": {"field": "density", "type": "quantitative", "scale": {"domain": [0, 1.1], "range": [0, 26]}, "legend": null},
                        "detail": {"field": "c", "type": "nominal"},
                        "order": {"field": "value", "type": "quantitative"}
                      }
                    },
                    {
                      "data": {"name": "sumE"},
                      "mark": {"type": "rule", "color": "#333", "strokeWidth": 0.6},
                      "encoding": {"x": {"field": "c", "type": "quantitative"}, "y": {"field": "lo", "type": "quantitative"}, "y2": {"field": "hi"}}
                    },
                    {
                      "data": {"name": "sumE"},
                      "mark": {"type": "bar", "size": 24, "fill": "white", "fillOpacity": 0, "stroke": "#333", "strokeWidth": 0.7},
                      "encoding": {"x": {"field": "c", "type": "quantitative"}, "y": {"field": "q1", "type": "quantitative"}, "y2": {"field": "q3"}}
                    },
                    {
                      "data": {"name": "sumE"},
                      "mark": {"type": "tick", "orient": "horizontal", "size": 24, "thickness": 1, "color": "#333"},
                      "encoding": {"x": {"field": "c", "type": "quantitative"}, "y": {"field": "med", "type": "quantitative"}}
                    }
                  ]
                },
                {
                  "data": {"name": "ptsE"},
                  "transform": [
                    {"window": [{"op": "row_number", "as": "rn"}], "groupby": ["c"]},
                    {"window": [{"op": "percent_rank", "as": "jit"}], "sort": [{"field": "rn"}], "groupby": ["c"]}
                  ],
                  "mark": {"type": "circle", "size": 12, "opacity": 0.45},
                  "encoding": {
                    "x": {"field": "c", "type": "ordinal", "scale": {"type": "band", "domain": [1, 2, 3, 4], "paddingInner": 0.8, "paddingOuter": 0.5}, "axis": null},
                    "xOffset": {"field": "jit", "type": "quantitative", "scale": {"domain": [0, 1], "range": [0, 15.1]}},
                    "y": {"field": "v", "type": "quantitative"},
                    "color": {"field": "c", "type": "nominal", "scale": {"domain": [1, 2, 3, 4], "range": ["#1B9E77", "#D95F02", "#7570B3", "#E7298A"]}, "legend": null}
                  }
                },
                {
                  "layer": [
                    {
                      "data": {"name": "sumE"},
                      "mark": {"type": "point", "shape": "M0,0H0.45", "size": 1600, "filled": false, "strokeDash": [1.2, 1], "strokeWidth": 0.6, "color": "#555"},
                      "encoding": {"x": {"field": "c", "type": "quantitative", "scale": {"domain": [0.4, 4.6], "nice": false, "zero": false}, "axis": null}, "y": {"field": "mean", "type": "quantitative"}}
                    },
                    {
                      "data": {"name": "sumE"},
                      "mark": {"type": "point", "shape": "M0.45,-0.26H2.6V0.26H0.45Z", "size": 1600, "filled": true, "fill": "white", "fillOpacity": 1, "opacity": 1, "stroke": "#888", "strokeWidth": 0.6},
                      "encoding": {"x": {"field": "c", "type": "quantitative"}, "y": {"field": "mean", "type": "quantitative"}}
                    },
                    {
                      "data": {"name": "sumE"},
                      "mark": {"type": "circle", "size": 22, "color": "#8B0000", "opacity": 1},
                      "encoding": {"x": {"field": "c", "type": "quantitative"}, "y": {"field": "mean", "type": "quantitative"}}
                    },
                    {
                      "data": {"name": "sumE"},
                      "mark": {"type": "text", "align": "left", "baseline": "middle", "dx": 11, "fontSize": 5, "font": "Noto Sans", "color": "#333"},
                      "encoding": {"x": {"field": "c", "type": "quantitative"}, "y": {"field": "mean", "type": "quantitative"}, "text": {"field": "lab"}}
                    },
                    {
                      "data": {"name": "brE"},
                      "mark": {"type": "rule", "color": "#333", "strokeWidth": 0.6},
                      "encoding": {"x": {"field": "x1", "type": "quantitative"}, "x2": {"field": "x2"}, "y": {"field": "y", "type": "quantitative"}}
                    },
                    {
                      "data": {"name": "brE"},
                      "transform": [{"fold": ["x1", "x2"], "as": ["k", "xx"]}],
                      "mark": {"type": "point", "shape": "M0,0V0.6", "size": 64, "filled": false, "color": "#333", "strokeWidth": 0.6},
                      "encoding": {"x": {"field": "xx", "type": "quantitative"}, "y": {"field": "y", "type": "quantitative"}}
                    },
                    {
                      "data": {"name": "brE"},
                      "mark": {"type": "text", "baseline": "bottom", "dy": -2, "fontSize": 5, "font": "Noto Sans", "color": "#333"},
                      "encoding": {"x": {"field": "xm", "type": "quantitative"}, "y": {"field": "y", "type": "quantitative"}, "text": {"field": "lab"}}
                    }
                  ]
                }
              ]
            },
            {
              "title": {"text": "F", "anchor": "start", "fontSize": 21, "offset": 3, "dx": 8},
              "spacing": 10,
              "vconcat": [
                {"width": 1, "height": 1, "data": {"values": []}, "mark": "point"},
                {
                  "width": 315, "height": 229,
                  "resolve": {"scale": {"x": "independent", "size": "independent", "color": "independent"}},
                  "layer": [
                    {
                      "resolve": {"scale": {"size": "independent"}},
                      "layer": [
                        {
                          "data": {"name": "ptsF"},
                          "transform": [
                            {"joinaggregate": [{"op": "min", "field": "v", "as": "vmin"}, {"op": "max", "field": "v", "as": "vmax"}], "groupby": ["c"]},
                            {"density": "v", "groupby": ["c", "vmin", "vmax"], "steps": 300, "as": ["value", "density"]},
                            {"filter": "datum.value >= datum.vmin - 0.001 && datum.value <= datum.vmax + 0.001"}
                          ],
                          "mark": {"type": "trail", "filled": true, "color": "#3A3A3A"},
                          "encoding": {
                            "x": {"field": "c", "type": "quantitative", "scale": {"domain": [0.4, 4.6], "nice": false, "zero": false},
                              "axis": {"values": [1, 2, 3, 4], "labelExpr": "[['Adenocarcinoma','(n = 25)'],['High grade','(n = 30)'],['Low grade','(n = 21)'],['Normal','(n = 12)']][datum.value - 1]", "labelOverlap": false, "title": "CRC stages", "labelFont": "Noto Sans", "titleFont": "Noto Sans", "labelFontSize": 7, "labelLineHeight": 7, "labelColor": "#4D4D4D", "titleFontSize": 9, "titleColor": "#1A1A1A", "tickSize": 2, "tickColor": "#4D4D4D", "labelPadding": 0, "titlePadding": 3, "domain": false, "grid": true, "gridColor": "#EBEBEB", "gridWidth": 0.7, "labelFlush": false}},
                            "y": {"field": "value", "type": "quantitative", "scale": {"domain": [7.94, 12.62], "nice": false, "zero": false},
                              "axis": {"values": [8, 8.5, 9, 9.5, 10, 10.5, 11, 11.5, 12, 12.5], "labelExpr": "datum.value % 1 === 0 ? format(datum.value, 'd') : ''", "labelOverlap": false, "title": "LITAF", "titleFont": "Noto Sans", "titleFontSize": 7.5, "titleColor": "#1A1A1A", "labelFontSize": 4.5, "labelColor": "#4D4D4D", "tickSize": 2, "labelPadding": 1, "titlePadding": 1, "domain": false, "gridColor": "#EBEBEB", "gridWidth": 0.7}},
                            "size": {"field": "density", "type": "quantitative", "scale": {"domain": [0, 1.1], "range": [1.3, 29.3]}, "legend": null},
                            "detail": {"field": "c", "type": "nominal"},
                            "order": {"field": "value", "type": "quantitative"}
                          }
                        },
                        {
                          "data": {"name": "ptsF"},
                          "transform": [
                            {"joinaggregate": [{"op": "min", "field": "v", "as": "vmin"}, {"op": "max", "field": "v", "as": "vmax"}], "groupby": ["c"]},
                            {"density": "v", "groupby": ["c", "vmin", "vmax"], "steps": 300, "as": ["value", "density"]},
                            {"filter": "datum.value >= datum.vmin - 0.001 && datum.value <= datum.vmax + 0.001"}
                          ],
                          "mark": {"type": "trail", "filled": true, "color": "white"},
                          "encoding": {
                            "x": {"field": "c", "type": "quantitative"},
                            "y": {"field": "value", "type": "quantitative"},
                            "size": {"field": "density", "type": "quantitative", "scale": {"domain": [0, 1.1], "range": [0, 28]}, "legend": null},
                            "detail": {"field": "c", "type": "nominal"},
                            "order": {"field": "value", "type": "quantitative"}
                          }
                        },
                        {
                          "data": {"name": "sumF"},
                          "mark": {"type": "rule", "color": "#333", "strokeWidth": 0.6},
                          "encoding": {"x": {"field": "c", "type": "quantitative"}, "y": {"field": "lo", "type": "quantitative"}, "y2": {"field": "hi"}}
                        },
                        {
                          "data": {"name": "sumF"},
                          "mark": {"type": "bar", "size": 23, "fill": "white", "fillOpacity": 0, "stroke": "#333", "strokeWidth": 0.7},
                          "encoding": {"x": {"field": "c", "type": "quantitative"}, "y": {"field": "q1", "type": "quantitative"}, "y2": {"field": "q3"}}
                        },
                        {
                          "data": {"name": "sumF"},
                          "mark": {"type": "tick", "orient": "horizontal", "size": 23, "thickness": 1, "color": "#333"},
                          "encoding": {"x": {"field": "c", "type": "quantitative"}, "y": {"field": "med", "type": "quantitative"}}
                        }
                      ]
                    },
                    {
                      "data": {"name": "ptsF"},
                      "transform": [
                        {"window": [{"op": "row_number", "as": "rn"}], "groupby": ["c"]},
                        {"window": [{"op": "percent_rank", "as": "jit"}], "sort": [{"field": "rn"}], "groupby": ["c"]}
                      ],
                      "mark": {"type": "circle", "size": 12, "opacity": 0.45},
                      "encoding": {
                        "x": {"field": "c", "type": "ordinal", "scale": {"type": "band", "domain": [1, 2, 3, 4], "paddingInner": 0.8, "paddingOuter": 0.5}, "axis": null},
                        "xOffset": {"field": "jit", "type": "quantitative", "scale": {"domain": [0, 1], "range": [0, 15]}},
                        "y": {"field": "v", "type": "quantitative"},
                        "color": {"field": "c", "type": "nominal", "scale": {"domain": [1, 2, 3, 4], "range": ["#1B9E77", "#D95F02", "#7570B3", "#E7298A"]}, "legend": null}
                      }
                    },
                    {
                      "layer": [
                        {
                          "data": {"name": "sumF"},
                          "mark": {"type": "point", "shape": "M0,0H0.45", "size": 1600, "filled": false, "strokeDash": [1.2, 1], "strokeWidth": 0.6, "color": "#555"},
                          "encoding": {"x": {"field": "c", "type": "quantitative", "scale": {"domain": [0.4, 4.6], "nice": false, "zero": false}, "axis": null}, "y": {"field": "mean", "type": "quantitative"}}
                        },
                        {
                          "data": {"name": "sumF"},
                          "mark": {"type": "point", "shape": "M0.45,-0.26H2.6V0.26H0.45Z", "size": 1600, "filled": true, "fill": "white", "fillOpacity": 1, "opacity": 1, "stroke": "#888", "strokeWidth": 0.6},
                          "encoding": {"x": {"field": "c", "type": "quantitative"}, "y": {"field": "mean", "type": "quantitative"}}
                        },
                        {
                          "data": {"name": "sumF"},
                          "mark": {"type": "circle", "size": 22, "color": "#8B0000", "opacity": 1},
                          "encoding": {"x": {"field": "c", "type": "quantitative"}, "y": {"field": "mean", "type": "quantitative"}}
                        },
                        {
                          "data": {"name": "sumF"},
                          "mark": {"type": "text", "align": "left", "baseline": "middle", "dx": 11, "fontSize": 5, "font": "Noto Sans", "color": "#333"},
                          "encoding": {"x": {"field": "c", "type": "quantitative"}, "y": {"field": "mean", "type": "quantitative"}, "text": {"field": "lab"}}
                        },
                        {
                          "data": {"name": "brF"},
                          "mark": {"type": "rule", "color": "#333", "strokeWidth": 0.6},
                          "encoding": {"x": {"field": "x1", "type": "quantitative"}, "x2": {"field": "x2"}, "y": {"field": "y", "type": "quantitative"}}
                        },
                        {
                          "data": {"name": "brF"},
                          "transform": [{"fold": ["x1", "x2"], "as": ["k", "xx"]}],
                          "mark": {"type": "point", "shape": "M0,0V0.6", "size": 64, "filled": false, "color": "#333", "strokeWidth": 0.6},
                          "encoding": {"x": {"field": "xx", "type": "quantitative"}, "y": {"field": "y", "type": "quantitative"}}
                        },
                        {
                          "data": {"name": "brF"},
                          "mark": {"type": "text", "baseline": "bottom", "dy": -2, "fontSize": 5, "font": "Noto Sans", "color": "#333"},
                          "encoding": {"x": {"field": "xm", "type": "quantitative"}, "y": {"field": "y", "type": "quantitative"}, "text": {"field": "lab"}}
                        }
                      ]
                    }
                  ]
                }
              ]
            }
          ]
        }
      ]
    },
    {
      "spacing": 1,
      "resolve": {"scale": {"color": "independent", "size": "independent", "xOffset": "independent"}, "legend": {"color": "independent", "size": "independent"}},
      "hconcat": [
        {"width": 1, "height": 1, "data": {"values": []}, "mark": "point"},
        {
          "spacing": 57,
          "resolve": {"scale": {"color": "independent", "size": "independent", "xOffset": "independent"}, "legend": {"color": "independent", "size": "independent"}},
          "hconcat": [
            {
              "title": {"text": "G", "anchor": "start", "fontSize": 21, "offset": 8, "dx": 4},
              "width": 313, "height": 238,
              "resolve": {"scale": {"x": "independent", "size": "independent", "color": "independent"}},
              "layer": [
                {
                  "resolve": {"scale": {"size": "independent"}},
                  "layer": [
                    {
                      "data": {"name": "ptsG"},
                      "transform": [
                        {"joinaggregate": [{"op": "min", "field": "v", "as": "vmin"}, {"op": "max", "field": "v", "as": "vmax"}], "groupby": ["c"]},
                        {"density": "v", "groupby": ["c", "vmin", "vmax"], "steps": 300, "as": ["value", "density"]},
                        {"filter": "datum.value >= datum.vmin - 0.001 && datum.value <= datum.vmax + 0.001"}
                      ],
                      "mark": {"type": "trail", "filled": true, "color": "#3A3A3A"},
                      "encoding": {
                        "x": {"field": "c", "type": "quantitative", "scale": {"domain": [0.4, 3.6], "nice": false, "zero": false},
                          "axis": {"values": [1, 2, 3], "labelExpr": "[['Late stage','(n = 14)'],['Newly diagnosed','(n = 18)'],['Normal','(n = 12)']][datum.value - 1]", "labelOverlap": false, "title": "CD stages", "labelFont": "Noto Sans", "titleFont": "Noto Sans", "labelFontSize": 7, "labelLineHeight": 7, "labelColor": "#4D4D4D", "titleFontSize": 9, "titleColor": "#1A1A1A", "tickSize": 2, "tickColor": "#4D4D4D", "labelPadding": 0, "titlePadding": 3, "domain": false, "grid": true, "gridColor": "#EBEBEB", "gridWidth": 0.7, "labelFlush": false}},
                        "y": {"field": "value", "type": "quantitative", "scale": {"domain": [6.97, 12.2], "nice": false, "zero": false},
                          "axis": {"values": [7, 7.5, 8, 8.5, 9, 9.5, 10, 10.5, 11, 11.5, 12], "labelExpr": "datum.value % 1 === 0 ? format(datum.value, 'd') : ''", "labelOverlap": false, "title": "PHLPP2", "titleFont": "Noto Sans", "titleFontSize": 7.5, "titleColor": "#1A1A1A", "labelFontSize": 4.5, "labelColor": "#4D4D4D", "tickSize": 2, "labelPadding": 1, "titlePadding": 1, "domain": false, "gridColor": "#EBEBEB", "gridWidth": 0.7}},
                        "size": {"field": "density", "type": "quantitative", "scale": {"domain": [0, 1.1], "range": [1.3, 46.3]}, "legend": null},
                        "detail": {"field": "c", "type": "nominal"},
                        "order": {"field": "value", "type": "quantitative"}
                      }
                    },
                    {
                      "data": {"name": "ptsG"},
                      "transform": [
                        {"joinaggregate": [{"op": "min", "field": "v", "as": "vmin"}, {"op": "max", "field": "v", "as": "vmax"}], "groupby": ["c"]},
                        {"density": "v", "groupby": ["c", "vmin", "vmax"], "steps": 300, "as": ["value", "density"]},
                        {"filter": "datum.value >= datum.vmin - 0.001 && datum.value <= datum.vmax + 0.001"}
                      ],
                      "mark": {"type": "trail", "filled": true, "color": "white"},
                      "encoding": {
                        "x": {"field": "c", "type": "quantitative"},
                        "y": {"field": "value", "type": "quantitative"},
                        "size": {"field": "density", "type": "quantitative", "scale": {"domain": [0, 1.1], "range": [0, 45]}, "legend": null},
                        "detail": {"field": "c", "type": "nominal"},
                        "order": {"field": "value", "type": "quantitative"}
                      }
                    },
                    {
                      "data": {"name": "sumG"},
                      "mark": {"type": "rule", "color": "#333", "strokeWidth": 0.6},
                      "encoding": {"x": {"field": "c", "type": "quantitative"}, "y": {"field": "lo", "type": "quantitative"}, "y2": {"field": "hi"}}
                    },
                    {
                      "data": {"name": "sumG"},
                      "mark": {"type": "bar", "size": 28, "fill": "white", "fillOpacity": 0, "stroke": "#333", "strokeWidth": 0.7},
                      "encoding": {"x": {"field": "c", "type": "quantitative"}, "y": {"field": "q1", "type": "quantitative"}, "y2": {"field": "q3"}}
                    },
                    {
                      "data": {"name": "sumG"},
                      "mark": {"type": "tick", "orient": "horizontal", "size": 28, "thickness": 1, "color": "#333"},
                      "encoding": {"x": {"field": "c", "type": "quantitative"}, "y": {"field": "med", "type": "quantitative"}}
                    }
                  ]
                },
                {
                  "data": {"name": "ptsG"},
                  "transform": [
                    {"window": [{"op": "row_number", "as": "rn"}], "groupby": ["c"]},
                    {"window": [{"op": "percent_rank", "as": "jit"}], "sort": [{"field": "rn"}], "groupby": ["c"]}
                  ],
                  "mark": {"type": "circle", "size": 14, "opacity": 0.45},
                  "encoding": {
                    "x": {"field": "c", "type": "ordinal", "scale": {"type": "band", "domain": [1, 2, 3], "paddingInner": 0.8, "paddingOuter": 0.5}, "axis": null},
                    "xOffset": {"field": "jit", "type": "quantitative", "scale": {"domain": [0, 1], "range": [1.8, 17.8]}},
                    "y": {"field": "v", "type": "quantitative"},
                    "color": {"field": "c", "type": "nominal", "scale": {"domain": [1, 2, 3], "range": ["#1B9E77", "#D95F02", "#7570B3"]}, "legend": null}
                  }
                },
                {
                  "layer": [
                    {
                      "data": {"name": "sumG"},
                      "mark": {"type": "point", "shape": "M0,0H0.45", "size": 1600, "filled": false, "strokeDash": [1.2, 1], "strokeWidth": 0.6, "color": "#555"},
                      "encoding": {"x": {"field": "c", "type": "quantitative", "scale": {"domain": [0.4, 3.6], "nice": false, "zero": false}, "axis": null}, "y": {"field": "mean", "type": "quantitative"}}
                    },
                    {
                      "data": {"name": "sumG"},
                      "mark": {"type": "point", "shape": "M0.45,-0.26H2.6V0.26H0.45Z", "size": 1600, "filled": true, "fill": "white", "fillOpacity": 1, "opacity": 1, "stroke": "#888", "strokeWidth": 0.6},
                      "encoding": {"x": {"field": "c", "type": "quantitative"}, "y": {"field": "mean", "type": "quantitative"}}
                    },
                    {
                      "data": {"name": "sumG"},
                      "mark": {"type": "circle", "size": 24, "color": "#8B0000", "opacity": 1},
                      "encoding": {"x": {"field": "c", "type": "quantitative"}, "y": {"field": "mean", "type": "quantitative"}}
                    },
                    {
                      "data": {"name": "sumG"},
                      "mark": {"type": "text", "align": "left", "baseline": "middle", "dx": 11, "fontSize": 5, "font": "Noto Sans", "color": "#333"},
                      "encoding": {"x": {"field": "c", "type": "quantitative"}, "y": {"field": "mean", "type": "quantitative"}, "text": {"field": "lab"}}
                    },
                    {
                      "data": {"name": "brG"},
                      "mark": {"type": "rule", "color": "#333", "strokeWidth": 0.6},
                      "encoding": {"x": {"field": "x1", "type": "quantitative"}, "x2": {"field": "x2"}, "y": {"field": "y", "type": "quantitative"}}
                    },
                    {
                      "data": {"name": "brG"},
                      "transform": [{"fold": ["x1", "x2"], "as": ["k", "xx"]}],
                      "mark": {"type": "point", "shape": "M0,0V0.6", "size": 64, "filled": false, "color": "#333", "strokeWidth": 0.6},
                      "encoding": {"x": {"field": "xx", "type": "quantitative"}, "y": {"field": "y", "type": "quantitative"}}
                    },
                    {
                      "data": {"name": "brG"},
                      "mark": {"type": "text", "baseline": "bottom", "dy": -2, "fontSize": 5, "font": "Noto Sans", "color": "#333"},
                      "encoding": {"x": {"field": "xm", "type": "quantitative"}, "y": {"field": "y", "type": "quantitative"}, "text": {"field": "lab"}}
                    }
                  ]
                }
              ]
            },
            {
              "title": {"text": "H", "anchor": "start", "fontSize": 21, "offset": 8, "dx": 4},
              "width": 311, "height": 240,
              "resolve": {"scale": {"x": "independent", "size": "independent", "color": "independent"}},
              "layer": [
                {
                  "resolve": {"scale": {"size": "independent"}},
                  "layer": [
                    {
                      "data": {"name": "gridH"},
                      "mark": {"type": "rule", "color": "#EBEBEB", "strokeWidth": 0.7},
                      "encoding": {"y": {"field": "gy", "type": "quantitative"}}
                    },
                    {
                      "data": {"name": "ptsH"},
                      "transform": [
                        {"joinaggregate": [{"op": "min", "field": "v", "as": "vmin"}, {"op": "max", "field": "v", "as": "vmax"}], "groupby": ["c"]},
                        {"density": "v", "groupby": ["c", "vmin", "vmax"], "steps": 300, "as": ["value", "density"]},
                        {"filter": "datum.value >= datum.vmin - 0.001 && datum.value <= datum.vmax + 0.001"}
                      ],
                      "mark": {"type": "trail", "filled": true, "color": "#3A3A3A"},
                      "encoding": {
                        "x": {"field": "c", "type": "quantitative", "scale": {"domain": [0.4, 3.6], "nice": false, "zero": false},
                          "axis": {"values": [1, 2, 3], "labelExpr": "[['Late stage','(n = 14)'],['Newly diagnosed','(n = 18)'],['Normal','(n = 12)']][datum.value - 1]", "labelOverlap": false, "title": "CD stages", "labelFont": "Noto Sans", "titleFont": "Noto Sans", "labelFontSize": 7, "labelLineHeight": 7, "labelColor": "#4D4D4D", "titleFontSize": 9, "titleColor": "#1A1A1A", "tickSize": 2, "tickColor": "#4D4D4D", "labelPadding": 0, "titlePadding": 3, "domain": false, "grid": true, "gridColor": "#EBEBEB", "gridWidth": 0.7, "labelFlush": false}},
                        "y": {"field": "value", "type": "quantitative", "scale": {"domain": [8.58, 12.63], "nice": false, "zero": false},
                          "axis": {"values": [9.5, 10.5, 11.5, 12.5], "format": ".1f", "labelOverlap": false, "title": "LITAF", "titleFont": "Noto Sans", "titleFontSize": 7.5, "titleColor": "#1A1A1A", "labelFontSize": 4.5, "labelColor": "#4D4D4D", "tickSize": 2, "labelPadding": 1, "titlePadding": 1, "domain": false, "gridColor": "#EBEBEB", "gridWidth": 0.7}},
                        "size": {"field": "density", "type": "quantitative", "scale": {"domain": [0, 1.2], "range": [1.3, 48.3]}, "legend": null},
                        "detail": {"field": "c", "type": "nominal"},
                        "order": {"field": "value", "type": "quantitative"}
                      }
                    },
                    {
                      "data": {"name": "ptsH"},
                      "transform": [
                        {"joinaggregate": [{"op": "min", "field": "v", "as": "vmin"}, {"op": "max", "field": "v", "as": "vmax"}], "groupby": ["c"]},
                        {"density": "v", "groupby": ["c", "vmin", "vmax"], "steps": 300, "as": ["value", "density"]},
                        {"filter": "datum.value >= datum.vmin - 0.001 && datum.value <= datum.vmax + 0.001"}
                      ],
                      "mark": {"type": "trail", "filled": true, "color": "white"},
                      "encoding": {
                        "x": {"field": "c", "type": "quantitative"},
                        "y": {"field": "value", "type": "quantitative"},
                        "size": {"field": "density", "type": "quantitative", "scale": {"domain": [0, 1.2], "range": [0, 47]}, "legend": null},
                        "detail": {"field": "c", "type": "nominal"},
                        "order": {"field": "value", "type": "quantitative"}
                      }
                    },
                    {
                      "data": {"name": "sumH"},
                      "mark": {"type": "rule", "color": "#333", "strokeWidth": 0.6},
                      "encoding": {"x": {"field": "c", "type": "quantitative"}, "y": {"field": "lo", "type": "quantitative"}, "y2": {"field": "hi"}}
                    },
                    {
                      "data": {"name": "sumH"},
                      "mark": {"type": "bar", "size": 29, "fill": "white", "fillOpacity": 0, "stroke": "#333", "strokeWidth": 0.7},
                      "encoding": {"x": {"field": "c", "type": "quantitative"}, "y": {"field": "q1", "type": "quantitative"}, "y2": {"field": "q3"}}
                    },
                    {
                      "data": {"name": "sumH"},
                      "mark": {"type": "tick", "orient": "horizontal", "size": 29, "thickness": 1, "color": "#333"},
                      "encoding": {"x": {"field": "c", "type": "quantitative"}, "y": {"field": "med", "type": "quantitative"}}
                    }
                  ]
                },
                {
                  "data": {"name": "ptsH"},
                  "transform": [
                    {"window": [{"op": "row_number", "as": "rn"}], "groupby": ["c"]},
                    {"window": [{"op": "percent_rank", "as": "jit"}], "sort": [{"field": "rn"}], "groupby": ["c"]}
                  ],
                  "mark": {"type": "circle", "size": 14, "opacity": 0.45},
                  "encoding": {
                    "x": {"field": "c", "type": "ordinal", "scale": {"type": "band", "domain": [1, 2, 3], "paddingInner": 0.8, "paddingOuter": 0.5}, "axis": null},
                    "xOffset": {"field": "jit", "type": "quantitative", "scale": {"domain": [0, 1], "range": [1.7, 17.7]}},
                    "y": {"field": "v", "type": "quantitative"},
                    "color": {"field": "c", "type": "nominal", "scale": {"domain": [1, 2, 3], "range": ["#1B9E77", "#D95F02", "#7570B3"]}, "legend": null}
                  }
                },
                {
                  "layer": [
                    {
                      "data": {"name": "sumH"},
                      "mark": {"type": "point", "shape": "M0,0H0.45", "size": 1600, "filled": false, "strokeDash": [1.2, 1], "strokeWidth": 0.6, "color": "#555"},
                      "encoding": {"x": {"field": "c", "type": "quantitative", "scale": {"domain": [0.4, 3.6], "nice": false, "zero": false}, "axis": null}, "y": {"field": "mean", "type": "quantitative"}}
                    },
                    {
                      "data": {"name": "sumH"},
                      "mark": {"type": "point", "shape": "M0.45,-0.26H2.6V0.26H0.45Z", "size": 1600, "filled": true, "fill": "white", "fillOpacity": 1, "opacity": 1, "stroke": "#888", "strokeWidth": 0.6},
                      "encoding": {"x": {"field": "c", "type": "quantitative"}, "y": {"field": "mean", "type": "quantitative"}}
                    },
                    {
                      "data": {"name": "sumH"},
                      "mark": {"type": "circle", "size": 24, "color": "#8B0000", "opacity": 1},
                      "encoding": {"x": {"field": "c", "type": "quantitative"}, "y": {"field": "mean", "type": "quantitative"}}
                    },
                    {
                      "data": {"name": "sumH"},
                      "mark": {"type": "text", "align": "left", "baseline": "middle", "dx": 11, "fontSize": 5, "font": "Noto Sans", "color": "#333"},
                      "encoding": {"x": {"field": "c", "type": "quantitative"}, "y": {"field": "mean", "type": "quantitative"}, "text": {"field": "lab"}}
                    },
                    {
                      "data": {"name": "brH"},
                      "mark": {"type": "rule", "color": "#333", "strokeWidth": 0.6},
                      "encoding": {"x": {"field": "x1", "type": "quantitative"}, "x2": {"field": "x2"}, "y": {"field": "y", "type": "quantitative"}}
                    },
                    {
                      "data": {"name": "brH"},
                      "transform": [{"fold": ["x1", "x2"], "as": ["k", "xx"]}],
                      "mark": {"type": "point", "shape": "M0,0V0.6", "size": 64, "filled": false, "color": "#333", "strokeWidth": 0.6},
                      "encoding": {"x": {"field": "xx", "type": "quantitative"}, "y": {"field": "y", "type": "quantitative"}}
                    },
                    {
                      "data": {"name": "brH"},
                      "mark": {"type": "text", "baseline": "bottom", "dy": -2, "fontSize": 5, "font": "Noto Sans", "color": "#333"},
                      "encoding": {"x": {"field": "xm", "type": "quantitative"}, "y": {"field": "y", "type": "quantitative"}, "text": {"field": "lab"}}
                    }
                  ]
                }
              ]
            }
          ]
        }
      ]
    }
  ]
}
